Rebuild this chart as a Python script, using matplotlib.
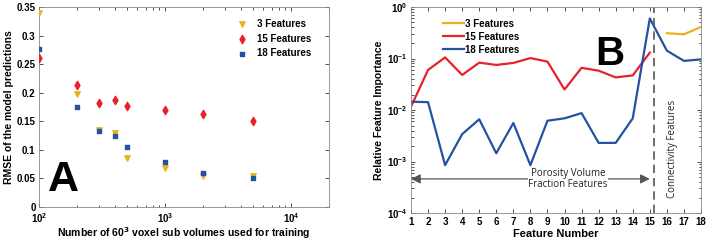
import numpy as np
import matplotlib
matplotlib.use("Agg")
import matplotlib.pyplot as plt
from matplotlib.ticker import LogLocator, NullFormatter

plt.rcParams['font.family'] = ['Liberation Sans', 'DejaVu Sans']
plt.rcParams['mathtext.default'] = 'bf'

# panel A data
n_train = [100, 200, 300, 400, 500, 1000, 2000, 5000]
rmse_3 = [0.340, 0.198, 0.135, 0.130, 0.085, 0.068, 0.055, 0.055]
rmse_15 = [0.260, 0.213, 0.182, 0.187, 0.176, 0.170, 0.163, 0.150]
rmse_18 = [0.276, 0.175, 0.133, 0.124, 0.105, 0.078, 0.060, 0.050]

# panel B data
feat_15 = list(range(1, 16))
imp_15 = [0.0116, 0.060, 0.105, 0.048, 0.083, 0.075, 0.082, 0.102, 0.087,
          0.025, 0.066, 0.058, 0.043, 0.047, 0.130]
feat_18 = list(range(1, 19))
imp_18 = [0.0145, 0.0142, 0.00085, 0.0034, 0.0066, 0.00145, 0.0056, 0.00085,
          0.0062, 0.0069, 0.0087, 0.0023, 0.0023, 0.0069, 0.60, 0.142, 0.090, 0.096]
feat_3 = [16, 17, 18]
imp_3 = [0.31, 0.295, 0.41]

yellow = '#EDB120'
red = '#E8212B'
blue = '#2352A3'

fig = plt.figure(figsize=(7.08, 2.41), dpi=100)

def style(ax):
    ax.tick_params(which='both', direction='in', top=True, right=True,
                   labelsize=7, width=0.6, colors='#333333', pad=2.5)
    ax.tick_params(which='major', length=3)
    ax.tick_params(which='minor', length=1.8)
    for lbl in ax.get_xticklabels() + ax.get_yticklabels():
        lbl.set_fontweight('bold')
        lbl.set_color('black')
    for s in ax.spines.values():
        s.set_linewidth(0.6)
        s.set_color('#888888')

# ---- panel A
axA = fig.add_axes([0.0551, 0.141, 0.4096, 0.830])
axA.scatter(n_train, rmse_3, marker='v', s=15, color=yellow, label='3 Features', zorder=3)
axA.scatter(n_train, rmse_15, marker='d', s=18, color=red, label='15 Features', zorder=3)
axA.scatter(n_train, rmse_18, marker='s', s=12, color=blue, label='18 Features', zorder=4)
axA.set_xscale('log')
axA.set_xlim(100, 2e4)
axA.set_ylim(0, 0.35)
axA.set_yticks([0, 0.05, 0.1, 0.15, 0.2, 0.25, 0.3, 0.35])
axA.set_yticklabels(['0', '0.05', '0.1', '0.15', '0.2', '0.25', '0.3', '0.35'])
axA.set_xlabel('Number of 60$^3$ voxel sub volumes used for training',
               fontsize=7.5, fontweight='bold', labelpad=0)
axA.set_ylabel('RMSE of the model predictions', fontsize=7.5, fontweight='bold', labelpad=2)
style(axA)
axA.tick_params(axis='x', which='both', pad=3)
axA.legend(loc='upper right', bbox_to_anchor=(0.97, 0.985), frameon=False,
           prop={'weight': 'bold', 'size': 7}, handletextpad=0.6,
           labelspacing=0.5, markerscale=1.0)
axA.text(0.03, 0.08, 'A', transform=axA.transAxes, fontsize=31, fontweight='bold')

# ---- panel B
axB = fig.add_axes([0.5805, 0.116, 0.4096, 0.855])
axB.plot(feat_3, imp_3, color=yellow, lw=1.6, label='3 Features')
axB.plot(feat_15, imp_15, color=red, lw=1.6, label='15 Features')
axB.plot(feat_18, imp_18, color=blue, lw=1.6, label='18 Features')
axB.set_yscale('log')
axB.set_xlim(1, 18)
axB.set_ylim(1e-4, 1)
axB.set_xticks(feat_18)
axB.yaxis.set_major_locator(LogLocator(base=10, numticks=10))
axB.yaxis.set_minor_locator(LogLocator(base=10, subs=np.arange(2, 10), numticks=10))
axB.yaxis.set_minor_formatter(NullFormatter())
axB.set_xlabel('Feature Number', fontsize=8, fontweight='bold', labelpad=2)
axB.set_ylabel('Relative Feature Importance', fontsize=7.5, fontweight='bold', labelpad=2)
style(axB)
axB.axvline(15.25, color='#555555', lw=1.2, ls=(0, (5, 3)))
axB.annotate('', xy=(1.0, 4.6e-4), xytext=(15.0, 4.6e-4),
             arrowprops=dict(arrowstyle='<|-|>', color='#555555', lw=0.9,
                             mutation_scale=14, shrinkA=0, shrinkB=0))
axB.text(10.2, 4.6e-4, 'Porosity Volume\nFraction Features', ha='center', va='center',
         fontsize=7, family=['Open Sans', 'DejaVu Sans'], color='#222222',
         bbox=dict(facecolor='white', edgecolor='none', pad=0.5), linespacing=1.1)
axB.text(16.35, 1.8e-3, 'Connectivity Features', rotation=90, ha='center', va='center',
         fontsize=7, family=['Open Sans', 'DejaVu Sans'], color='#222222')
axB.legend(loc='upper left', bbox_to_anchor=(0.08, 0.985), frameon=False,
           prop={'weight': 'bold', 'size': 7}, handlelength=2.2, handletextpad=0.1,
           labelspacing=0.3)
axB.text(0.635, 0.72, 'B', transform=axB.transAxes, fontsize=29, fontweight='bold')

fig.savefig('out.png', dpi=100)
